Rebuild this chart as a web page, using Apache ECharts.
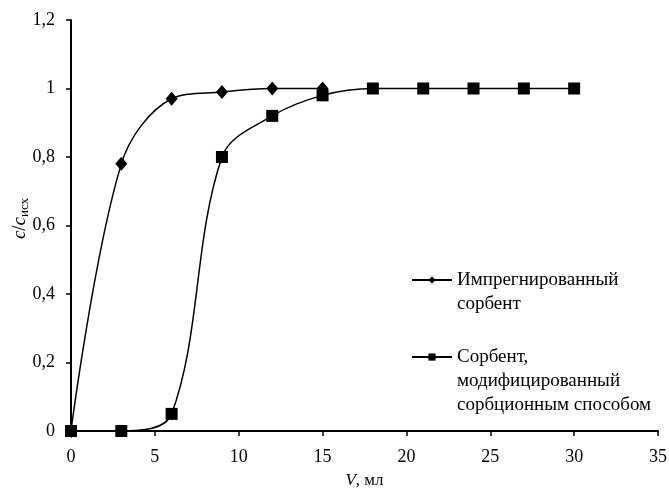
<!DOCTYPE html>
<html><head><meta charset="utf-8">
<script src="https://cdn.jsdelivr.net/npm/echarts@6/dist/echarts.min.js"></script>
<style>html,body{margin:0;padding:0;background:#fff}#c{width:669px;height:496px}</style>
</head><body><div id="c"></div>
<script>
var xImpregnated = [0, 3, 6, 9, 12, 15];
var yImpregnated = [0, 0.78, 0.97, 0.99, 1.0, 1.0];
var xModified = [0, 3, 6, 9, 12, 15, 18, 21, 24, 27, 30];
var yModified = [0, 0, 0.05, 0.8, 0.92, 0.98, 1, 1, 1, 1, 1];
var name1 = 'Импрегнированный\nсорбент';
var name2 = 'Сорбент,\nмодифицированный\nсорбционным способом';

function pairs(xs, ys) { return xs.map(function (x, i) { return [x, ys[i]]; }); }
var F = 'Liberation Serif';
var chart = echarts.init(document.getElementById('c'));
chart.setOption({
  animation: false,
  grid: { left: 71, right: 11, top: 20, bottom: 65, containLabel: false, outerBoundsMode: 'none' },
  textStyle: { fontFamily: F, color: '#000' },
  legend: [
    { data: [name1], orient: 'vertical', left: 411, top: 244, padding: 0, itemWidth: 40, itemHeight: 9,
      formatter: function (n) { return '\n' + n; },
      textStyle: { fontFamily: F, fontSize: 19, color: '#000', lineHeight: 24 } },
    { data: [name2], orient: 'vertical', left: 411, top: 297, padding: 0, itemWidth: 40, itemHeight: 9,
      formatter: function (n) { return '\n\n' + n; },
      textStyle: { fontFamily: F, fontSize: 19, color: '#000', lineHeight: 24 } }
  ],
  xAxis: {
    type: 'value', min: 0, max: 35, interval: 5,
    name: '{i|V}, мл', nameLocation: 'middle', nameGap: 41, nameMoveOverlap: false,
    nameTextStyle: { fontFamily: F, fontSize: 17, color: '#000', rich: { i: { fontFamily: F, fontSize: 17, fontStyle: 'italic' } } },
    axisLine: { lineStyle: { color: '#000', width: 2 } },
    axisTick: { length: 5, lineStyle: { color: '#000', width: 1.5 } },
    axisLabel: { fontFamily: F, fontSize: 18, color: '#000', margin: 17 },
    splitLine: { show: false }
  },
  yAxis: {
    type: 'value', min: 0, max: 1.2, interval: 0.2,
    name: '{i|c}/{i|c}{s|исх}', nameLocation: 'middle', nameGap: 40, nameMoveOverlap: false,
    nameTextStyle: { fontFamily: F, fontSize: 19, color: '#000', padding: [0, 0, 0, 14],
      rich: { i: { fontFamily: F, fontSize: 19, fontStyle: 'italic' },
              s: { fontFamily: F, fontSize: 13, padding: [9, 0, 0, 0] } } },
    axisLine: { show: true, lineStyle: { color: '#000', width: 2 } },
    axisTick: { show: true, length: 5, lineStyle: { color: '#000', width: 1.5 } },
    axisLabel: { fontFamily: F, fontSize: 18, color: '#000', margin: 16,
      formatter: function (v) { return String(Math.round(v * 10) / 10).replace('.', ','); } },
    splitLine: { show: false }
  },
  series: [
    { name: name2, type: 'line', data: pairs(xModified, yModified), smooth: 0.35,
      symbol: 'rect', symbolSize: 12, z: 2,
      lineStyle: { color: '#000', width: 1.5 }, itemStyle: { color: '#000' } },
    { name: name1, type: 'line', data: pairs(xImpregnated, yImpregnated), smooth: 0.35,
      symbol: 'diamond', symbolSize: [12, 14], z: 3,
      lineStyle: { color: '#000', width: 1.5 }, itemStyle: { color: '#000' } }
  ]
});
</script></body></html>
